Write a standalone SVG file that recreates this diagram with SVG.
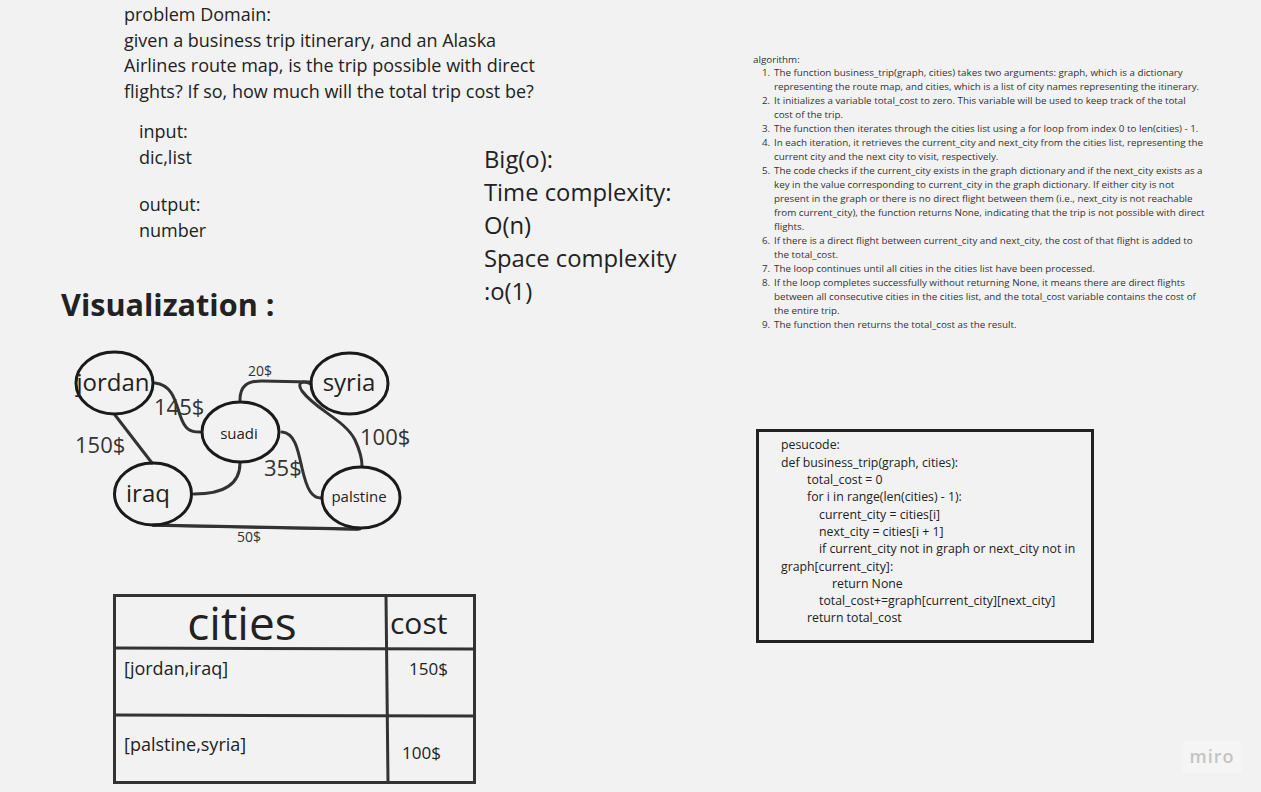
<svg xmlns="http://www.w3.org/2000/svg" width="1261" height="792" viewBox="0 0 1261 792">
<style>
text{font-family:"Open Sans","Noto Sans","Liberation Sans",sans-serif;fill:#222}
.pd{font-size:18px}
.bo{font-size:23.8px}
.al{font-size:9.8px;fill:#333}
.ps{font-size:12.3px}
.node{fill:none;stroke:#1a1a1a;stroke-width:3}
.edge{fill:none;stroke:#333;stroke-width:3;stroke-linecap:round}
.big{font-size:24px}
.sm{font-size:15px}
.lb{font-size:22px;fill:#333}
.lbs{font-size:14px;fill:#333}
.tb{fill:none;stroke:#333;stroke-width:3}
</style>
<rect width="1261" height="792" fill="#f2f2f2"/>

<g id="problem">
<text class="pd" x="124" y="21">problem Domain:</text>
<text class="pd" x="124" y="47">given a business trip itinerary, and an Alaska</text>
<text class="pd" x="124" y="72">Airlines route map, is the trip possible with direct</text>
<text class="pd" x="124" y="98">flights? If so, how much will the total trip cost be?</text>
</g>
<g id="io">
<text class="pd" x="139" y="138">input:</text>
<text class="pd" x="139" y="164">dic,list</text>
<text class="pd" x="139" y="211">output:</text>
<text class="pd" x="139" y="237">number</text>
</g>
<g id="bigo">
<text class="bo" x="484" y="168">Big(o):</text>
<text class="bo" x="484" y="201">Time complexity:</text>
<text class="bo" x="484" y="234">O(n)</text>
<text class="bo" x="484" y="267">Space complexity</text>
<text class="bo" x="484" y="300">:o(1)</text>
</g>
<g id="vis-title">
<text x="61" y="316" style="font-size:30.6px;font-weight:bold">Visualization :</text>
</g>

<g id="connectors">
<path class="edge" d="M155,383 C172,385 175,400 180,415 C185,430 190,432 200,432"/>
<path class="edge" d="M115,415 L152,463"/>
<path class="edge" d="M240,400 C240,386 247,381 262,381 L310,382"/>
<path class="edge" d="M240,463 C240,485 222,494 194,494"/>
<path class="edge" d="M282,432 C295,433 298,450 302,468 C307,490 312,498 321,498"/>
<path class="edge" d="M311,384 C303,380 296,382 302,391 C316,410 345,420 355,440 C361,453 362,460 362,466"/>
<path class="edge" d="M153,525 L360,529"/>
<path class="edge" d="M153,526 L358,530" style="stroke-width:1.5"/>
<text class="lbs" x="260" y="376" text-anchor="middle">20$</text>
<text class="lb" x="154" y="415">145$</text>
<text class="lb" x="75" y="453">150$</text>
<text class="lb" x="360" y="445">100$</text>
<text class="lb" x="264" y="476">35$</text>
<text class="lbs" x="249" y="542" text-anchor="middle">50$</text>
</g>

<g id="jordan">
<ellipse class="node" cx="114.5" cy="383" rx="38.5" ry="31"/>
<text class="big" x="113" y="391" text-anchor="middle">jordan</text>
</g>
<g id="syria">
<ellipse class="node" cx="349.5" cy="383.5" rx="38.5" ry="30.5"/>
<text class="big" x="349" y="391" text-anchor="middle">syria</text>
</g>
<g id="suadi">
<ellipse class="node" cx="240.5" cy="432" rx="38.5" ry="30"/>
<text class="sm" x="239" y="439" text-anchor="middle">suadi</text>
</g>
<g id="iraq">
<ellipse class="node" cx="153" cy="494" rx="38.5" ry="31"/>
<text class="big" x="148" y="502" text-anchor="middle">iraq</text>
</g>
<g id="palstine">
<ellipse class="node" cx="361" cy="497.5" rx="39" ry="30.5"/>
<text class="sm" x="359" y="502" text-anchor="middle">palstine</text>
</g>

<g id="table">
<rect class="tb" x="114.5" y="595.5" width="360" height="187"/>
<path class="tb" d="M386,596 L388,782"/>
<path class="tb" d="M115,648 L474,649"/>
<path class="tb" d="M115,715 L474,716"/>
<text x="242" y="640" text-anchor="middle" style="font-size:46px">cities</text>
<text x="390" y="634" style="font-size:30px">cost</text>
<text class="pd" x="124" y="675">[jordan,iraq]</text>
<text style="font-size:17px" x="409" y="675">150$</text>
<text class="pd" x="124" y="751">[palstine,syria]</text>
<text style="font-size:17px" x="402" y="759">100$</text>
</g>

<g id="algorithm">
<text class="al" x="753" y="63">algorithm:</text>
<text class="al" x="762" y="76">1.</text><text class="al" x="774" y="76">The function business_trip(graph, cities) takes two arguments: graph, which is a dictionary</text>
<text class="al" x="774" y="90">representing the route map, and cities, which is a list of city names representing the itinerary.</text>
<text class="al" x="762" y="104">2.</text><text class="al" x="774" y="104">It initializes a variable total_cost to zero. This variable will be used to keep track of the total</text>
<text class="al" x="774" y="118">cost of the trip.</text>
<text class="al" x="762" y="132">3.</text><text class="al" x="774" y="132">The function then iterates through the cities list using a for loop from index 0 to len(cities) - 1.</text>
<text class="al" x="762" y="146">4.</text><text class="al" x="774" y="146">In each iteration, it retrieves the current_city and next_city from the cities list, representing the</text>
<text class="al" x="774" y="160">current city and the next city to visit, respectively.</text>
<text class="al" x="762" y="174">5.</text><text class="al" x="774" y="174">The code checks if the current_city exists in the graph dictionary and if the next_city exists as a</text>
<text class="al" x="774" y="188">key in the value corresponding to current_city in the graph dictionary. If either city is not</text>
<text class="al" x="774" y="202">present in the graph or there is no direct flight between them (i.e., next_city is not reachable</text>
<text class="al" x="774" y="216">from current_city), the function returns None, indicating that the trip is not possible with direct</text>
<text class="al" x="774" y="230">flights.</text>
<text class="al" x="762" y="244">6.</text><text class="al" x="774" y="244">If there is a direct flight between current_city and next_city, the cost of that flight is added to</text>
<text class="al" x="774" y="258">the total_cost.</text>
<text class="al" x="762" y="272">7.</text><text class="al" x="774" y="272">The loop continues until all cities in the cities list have been processed.</text>
<text class="al" x="762" y="286">8.</text><text class="al" x="774" y="286">If the loop completes successfully without returning None, it means there are direct flights</text>
<text class="al" x="774" y="300">between all consecutive cities in the cities list, and the total_cost variable contains the cost of</text>
<text class="al" x="774" y="314">the entire trip.</text>
<text class="al" x="762" y="328">9.</text><text class="al" x="774" y="328">The function then returns the total_cost as the result.</text>
</g>

<g id="pseudocode">
<rect x="757.5" y="430.5" width="335" height="211" fill="#f2f2f2" stroke="#222" stroke-width="3"/>
<text class="ps" x="781" y="449">pesucode:</text>
<text class="ps" x="781" y="466.5">def business_trip(graph, cities):</text>
<text class="ps" x="807" y="484">total_cost = 0</text>
<text class="ps" x="807" y="501">for i in range(len(cities) - 1):</text>
<text class="ps" x="819" y="518.5">current_city = cities[i]</text>
<text class="ps" x="819" y="536">next_city = cities[i + 1]</text>
<text class="ps" x="819" y="553">if current_city not in graph or next_city not in</text>
<text class="ps" x="781" y="570.5">graph[current_city]:</text>
<text class="ps" x="832" y="588">return None</text>
<text class="ps" x="819" y="605">total_cost+=graph[current_city][next_city]</text>
<text class="ps" x="807" y="622">return total_cost</text>
</g>

<g id="miro">
<rect x="1182" y="741" width="60" height="32" rx="4" fill="#f5f5f5"/>
<text x="1212" y="763" text-anchor="middle" style="font-size:18px;font-weight:600;fill:#c4c4c4;letter-spacing:1px">miro</text>
</g>
</svg>
